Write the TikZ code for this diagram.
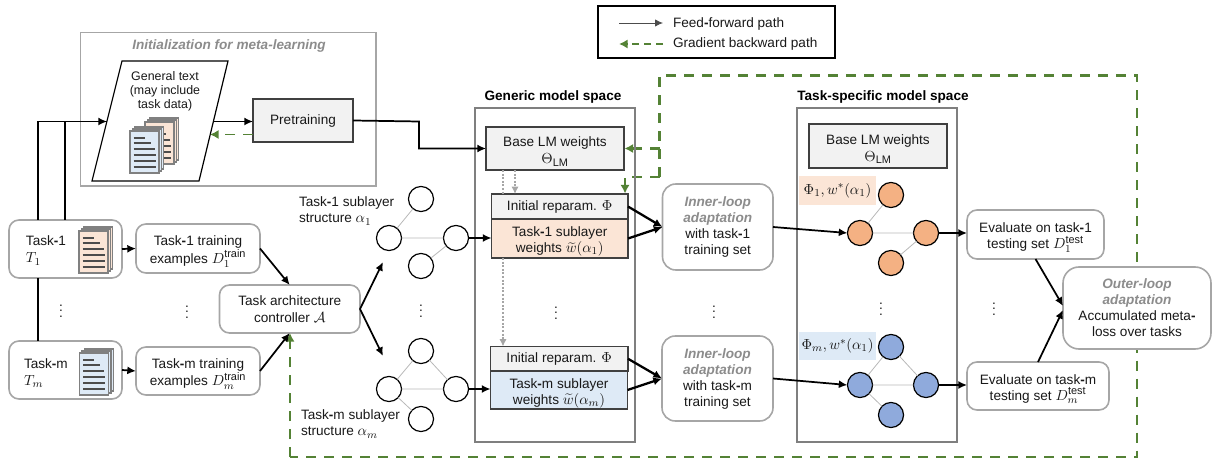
\documentclass[tikz,border=0pt]{standalone}
\usepackage{fontspec}
\setmainfont{Liberation Sans}
\usetikzlibrary{arrows.meta,calc}
\DeclareMathSizes{10.2}{11}{8.2}{7}
\definecolor{gfill}{HTML}{F2F2F2}
\definecolor{peach}{HTML}{FBE5D6}
\definecolor{sky}{HTML}{DEEAF6}
\definecolor{peachdot}{HTML}{F4B183}
\definecolor{skydot}{HTML}{8FAADC}
\definecolor{gradgreen}{HTML}{548235}
\definecolor{softgray}{HTML}{A6A6A6}
\definecolor{midgray}{HTML}{7F7F7F}
\definecolor{titlegray}{HTML}{8C8C8C}
\newcommand{\hy}{{\bfseries-}}
\newcommand{\tp}{\rule{0pt}{12pt}}
\newcommand{\boxat}[7]{%
  \pgfmathsetmacro\myCx{(#2+#4)/2}\pgfmathsetmacro\myCy{(#3+#5)/2}%
  \pgfmathsetmacro\myW{(#4-#2)*0.75}\pgfmathsetmacro\myH{(#5-#3)*0.75}%
  \node[#6,minimum width=\myW pt,minimum height=\myH pt] (#1) at (\myCx,\myCy) {#7};}
\newcommand{\docicon}[3]{%
  \begin{scope}[shift={(#1,#2)}]
    \foreach \o in {2,1}{
      \draw[fill=#3,draw=black!50,line width=.9pt] (2.4*\o,-2*\o) rectangle (29+2.4*\o,42-2*\o);
    }
    \draw[fill=#3,draw=black!50,line width=.9pt] (0,0) rectangle (29,42);
    \foreach \yy/\xx in {7/11,12/17,18/21,24/22,30/22,36/22}{
      \draw[black!70,line width=1pt] (3.5,\yy) -- (3.5+\xx,\yy);
    }
  \end{scope}}
\tikzset{
  every node/.style={font=\fontsize{10.2}{12}\selectfont,inner sep=0pt,outer sep=0pt,text=black!90},
  softbox/.style={draw=softgray,line width=1.2pt,rounded corners=7.5pt,fill=white,align=center},
  softbig/.style={draw=softgray,line width=1.2pt,rounded corners=10pt,fill=white,align=center},
  sqbox/.style={draw=black!75,line width=1pt,fill=gfill,align=center},
  spacebox/.style={draw=midgray,line width=1.6pt},
  initbox/.style={draw=softgray,line width=1.4pt},
  legendbox/.style={draw=black,line width=1.3pt},
  netnode/.style={circle,draw=black,line width=.9pt,minimum size=18.8pt,fill=white},
  netpeach/.style={netnode,fill=peachdot},
  netsky/.style={netnode,fill=skydot},
  netedge/.style={draw=softgray!80,line width=.6pt},
  flow/.style={draw=black,line width=1.3pt,-{Latex[length=6.5pt,width=6pt]}},
  flowplain/.style={draw=black,line width=1.3pt},
  back/.style={draw=gradgreen,line width=2pt,dash pattern=on 7.5pt off 6pt},
  backtip/.style={back,-{Latex[length=6.5pt,width=7pt]}},
  dotted link/.style={draw=softgray,line width=1.1pt,dash pattern=on 1.5pt off 1.2pt},
  dotted arrow/.style={dotted link,-{Latex[length=5.5pt,width=5.5pt]}},
  hdr/.style={font=\fontsize{10.2}{12}\selectfont\bfseries,text=black},
  ghdr/.style={font=\fontsize{10.2}{12}\selectfont\bfseries\itshape,text=titlegray},
  vdots/.style={font=\fontsize{10.2}{9}\selectfont},
}
\newcommand{\gh}[1]{{\bfseries\itshape\color{titlegray}#1}}
\begin{document}
\begin{tikzpicture}[x=0.75pt,y=-0.75pt]
\useasboundingbox (0,0) rectangle (1212,459);

% legend
\boxat{legend}{598}{6}{835}{58}{legendbox}{}
\coordinate (l1a) at (619,23); \coordinate (l1b) at (663,23);
\coordinate (l2a) at (663,44); \coordinate (l2b) at (619,44);
\draw[draw=black!70,line width=.6pt,-{Latex[length=6pt,width=5.5pt]}] (l1a) -- (l1b);
\draw[backtip,line width=1.4pt,dash pattern=on 5.5pt off 3.5pt] (l2a) -- (l2b);
\node[anchor=west] (l1t) at (673,24) {Feed\hy forward path};
\node[anchor=west] (l2t) at (673,44) {Gradient backward path};

% green outer loop
\coordinate (g0) at (290,333); \coordinate (g1) at (290,457); \coordinate (g2) at (1137,457);
\coordinate (g3) at (1137,75.5); \coordinate (g4) at (659.5,75.5); \coordinate (g5) at (659.5,177);
\coordinate (g6) at (625,177); \coordinate (g7) at (625,193.5);
\coordinate (g8) at (659.5,148.5); \coordinate (g9) at (624.5,148.5);
\draw[back] (g5) -- (g4) -- (g3) -- (g2) -- (g1);
\draw[backtip] (g1) -- (g0);
\draw[backtip] (g5) -- (g6) -- (g7);
\draw[backtip] (g8) -- (g9);

% initialization
\boxat{init}{80.5}{32.5}{376}{186}{initbox}{}
\node[ghdr] (initt) at (229,46) {Initialization for meta-learning};
\coordinate (pa) at (122,61); \coordinate (pb) at (228,61); \coordinate (pc) at (199,181); \coordinate (pd) at (92,181);
\draw[black,line width=.9pt,fill=white] (pa) -- (pb) -- (pc) -- (pd) -- cycle;
\node[align=center,font=\fontsize{9.3}{10.5}\selectfont] (gen) at (165,91) {General text\\(may include\\task data)};
\docicon{145}{122}{peach}
\docicon{130}{131}{sky}
\boxat{pre}{253}{99}{353}{142}{sqbox}{Pretraining}
\coordinate (pin) at (107,121.5); \coordinate (pout) at (213,121.5); \coordinate (pback) at (210,134.5);
\coordinate (bend) at (419,121.5);
\draw[flow] (pout) -- (pout -| pre.west);
\draw[backtip,line width=1.4pt] (pback -| pre.west) -- (pback);

% tasks
\boxat{t1}{9}{220}{122}{278}{softbox}{}
\boxat{tm}{9}{341}{122}{399}{softbox}{}
\docicon{79}{231}{peach}
\docicon{79.5}{353}{sky}
\node[align=left,anchor=west] (t1t) at (26,250.5) {Task\hy 1\\[1pt]$T_1$};
\node[align=left,anchor=west] (tmt) at (24,373) {Task\hy m\\[1pt]$T_m$};
\coordinate (xa) at (38,121.5); \coordinate (xb) at (65,121.5);
\draw[flowplain] (xa |- t1.north) -- (xa) -- (pin);
\draw[flowplain,-{Latex[length=6.5pt,width=6pt]}] (xb |- t1.north) -- (xb) -- (pin);
\draw[flowplain] (xa |- t1.south) -- (xa |- tm.north);

\boxat{d1}{136}{224}{260}{273}{softbox}{\tp Task\hy 1 training\\examples $D_1^{\mathrm{train}}$}
\boxat{dm}{136}{347}{260}{395}{softbox}{\tp Task\hy m training\\examples $D_m^{\mathrm{train}}$}
\boxat{ctrl}{219.5}{285}{360}{333}{softbox}{Task architecture\\[1pt]controller $\mathcal{A}$}
\draw[flow] (t1.east) -- (d1.west);
\draw[flow] (tm.east) -- (dm.west);
\draw[flow] (d1.east) -- (ctrl.north);
\draw[flow] (dm.east) -- (ctrl.south);
\coordinate (ca) at (383,262); \coordinate (cb) at (383,356);
\draw[flow] (ctrl.east) -- (ca);
\draw[flow] (ctrl.east) -- (cb);

% plain nets
\node[netnode] (a1) at (421,199) {}; \node[netnode] (a2) at (389,238) {};
\node[netnode] (a3) at (456,238) {}; \node[netnode] (a4) at (421,266) {};
\node[netnode] (b1) at (421,351) {}; \node[netnode] (b2) at (389,389) {};
\node[netnode] (b3) at (456,389) {}; \node[netnode] (b4) at (421,419) {};
\draw[netedge] (a2) -- (a1) (a2) -- (a3) (a3) -- (a4);
\draw[netedge] (b2) -- (b1) (b2) -- (b3) (b1) -- (b3) (b2) -- (b4);
\node[align=left,anchor=west] (s1) at (299,211) {Task\hy 1 sublayer\\structure $\alpha_1$};
\node[align=left,anchor=west] (sm) at (301,424) {Task\hy m sublayer\\structure $\alpha_m$};

% generic space
\boxat{gen space}{475}{108}{635}{442}{spacebox}{}
\node[hdr] (gent) at (553,97) {Generic model space};
\boxat{base}{486}{127}{624}{170}{sqbox}{\tp Base LM weights\\[1pt]$\Theta_{\mathrm{LM}}$}
\boxat{rep1}{491.5}{194}{628}{219}{sqbox}{Initial reparam. $\Phi$}
\boxat{sub1}{491.5}{219}{628}{258}{sqbox,fill=peach}{\tp Task\hy 1 sublayer\\weights $\widetilde{w}(\alpha_1)$}
\boxat{repm}{490.5}{346.5}{628}{371}{sqbox}{Initial reparam. $\Phi$}
\boxat{subm}{490.5}{371}{627.5}{409}{sqbox,fill=sky}{\tp Task\hy m sublayer\\weights $\widetilde{w}(\alpha_m)$}
\draw[flow] (a3) -- (a3 -| sub1.west);
\draw[flow] (b3) -- (b3 -| subm.west);
\coordinate (dx1) at (503,170); \coordinate (dx2) at (515,170);
\draw[dotted link] (dx1) -- (dx1 |- rep1.north);
\draw[dotted arrow] (dx2) -- (dx2 |- rep1.north);
\draw[dotted arrow] (dx1 |- sub1.south) -- (dx1 |- repm.north);
\coordinate (bentry) at (419,148.5);
\draw[flow] (pre.east) -- (bend) -- (bentry) -- (base.west);

% inner loop
\boxat{in1}{662.5}{184}{773}{270}{softbig}{\gh{Inner-loop}\\\gh{adaptation}\\with task\hy 1\\training set}
\boxat{inm}{662}{336}{773}{421}{softbig}{\gh{Inner-loop}\\\gh{adaptation}\\with task\hy m\\training set}
\draw[flow,line width=1.7pt] (rep1.east) -- (in1.west);
\draw[flow,line width=1.7pt] (sub1.east) -- (in1.west);
\draw[flow,line width=1.7pt] (repm.east) -- (inm.west);
\draw[flow,line width=1.7pt] (subm.east) -- (inm.west);

% task-specific space
\boxat{spec space}{797}{108}{957}{442}{spacebox}{}
\node[hdr] (spect) at (883,97) {Task-specific model space};
\boxat{base2}{809}{124}{947}{168}{sqbox}{\tp Base LM weights\\[1pt]$\Theta_{\mathrm{LM}}$}
\boxat{lab1}{799}{176}{876}{205}{fill=peach}{$\Phi_1, w^{*}(\alpha_1)$}
\boxat{labm}{799}{332}{876}{360}{fill=sky}{$\Phi_m, w^{*}(\alpha_1)$}
\node[netpeach] (c1) at (891,195) {}; \node[netpeach] (c2) at (860,233) {};
\node[netpeach] (c3) at (926,233) {}; \node[netpeach] (c4) at (891,263) {};
\node[netsky] (e1) at (891,347) {}; \node[netsky] (e2) at (860,385) {};
\node[netsky] (e3) at (926,385) {}; \node[netsky] (e4) at (891,415) {};
\draw[netedge] (c2) -- (c1) (c2) -- (c3) (c3) -- (c4);
\draw[netedge] (e2) -- (e1) (e2) -- (e3) (e1) -- (e3) (e2) -- (e4);
\draw[flow] (in1.east) -- (c2.west);
\draw[flow] (inm.east) -- (e2.west);

% evaluation and outer loop
\boxat{ev1}{967}{210}{1104}{259}{softbox}{\tp Evaluate on task\hy 1\\testing set $D_1^{\mathrm{test}}$}
\boxat{evm}{967}{362}{1109}{410}{softbox}{\tp Evaluate on task\hy m\\testing set $D_m^{\mathrm{test}}$}
\boxat{outer}{1063}{267}{1211}{349}{softbig,rounded corners=12pt}{\gh{Outer-loop}\\\gh{adaptation}\\Accumulated meta\hy\\loss over tasks}
\draw[flow] (c3) -- (c3 -| ev1.west);
\draw[flow] (e3) -- (e3 -| evm.west);
\coordinate (oa) at (1063,306); \coordinate (ob) at (1063,310);
\draw[flow] (ev1.south) -- (oa);
\draw[flow] (evm.north) -- (ob);

% vertical ellipses
\node[vdots] (v1) at (61,307) {$\vdots$};
\node[vdots] (v2) at (187,308) {$\vdots$};
\node[vdots] (v3) at (421,307) {$\vdots$};
\node[vdots] (v4) at (556,309) {$\vdots$};
\node[vdots] (v5) at (714,308) {$\vdots$};
\node[vdots] (v6) at (881,305) {$\vdots$};
\node[vdots] (v7) at (994,305) {$\vdots$};
\end{tikzpicture}
\end{document}
